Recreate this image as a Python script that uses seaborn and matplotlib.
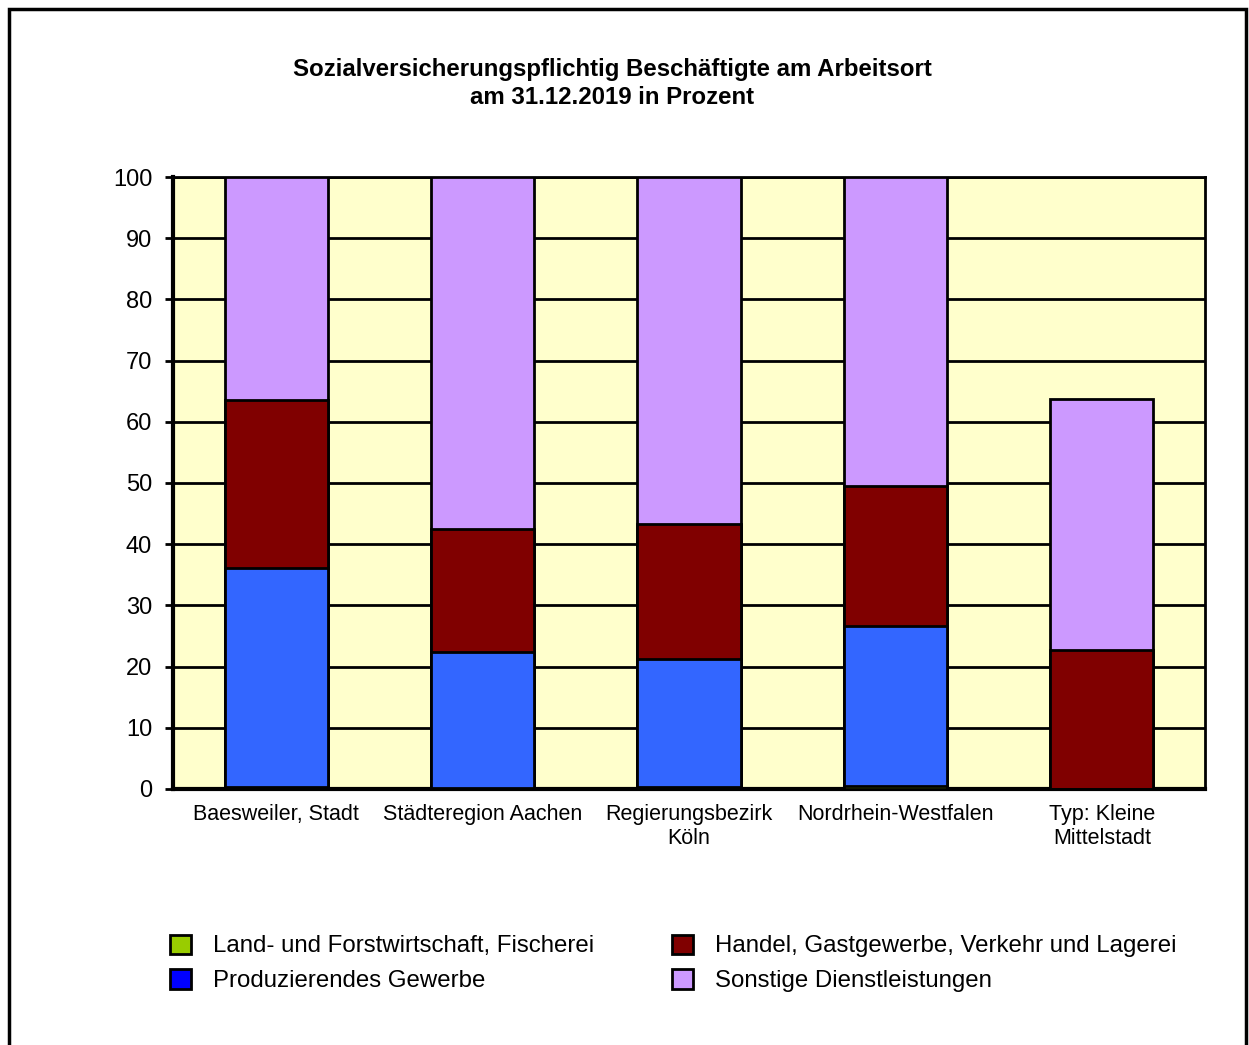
import pandas as pd
import matplotlib.pyplot as plt
import seaborn as sns
from matplotlib.patches import Patch, Rectangle

sns.set_theme(style="white")
plt.rcParams['font.family'] = ['Liberation Sans', 'DejaVu Sans']
plt.rcParams['text.color'] = 'black'
plt.rcParams['xtick.color'] = 'black'
plt.rcParams['ytick.color'] = 'black'

# Data (percent of employees by sector)
regions = ["Baesweiler, Stadt", "Städteregion Aachen", "Regierungsbezirk\nKöln",
           "Nordrhein-Westfalen", "Typ: Kleine\nMittelstadt"]
land = [0.4, 0.2, 0.4, 0.5, 0.0]
produz = [35.7, 22.2, 20.8, 26.1, 0.0]
handel = [27.5, 20.1, 22.1, 22.9, 22.7]
sonstige = [36.4, 57.5, 56.7, 50.5, 41.0]

series = ["Land- und Forstwirtschaft, Fischerei", "Produzierendes Gewerbe",
          "Handel, Gastgewerbe, Verkehr und Lagerei", "Sonstige Dienstleistungen"]
bar_colors = ["#99CC00", "#3366FF", "#800000", "#CC99FF"]
legend_colors = ["#99CC00", "#0000FF", "#800000", "#CC99FF"]

df = pd.DataFrame({"Region": regions, series[0]: land, series[1]: produz,
                   series[2]: handel, series[3]: sonstige})
cum = df[series].cumsum(axis=1)
cum["Region"] = df["Region"]

fig = plt.figure(figsize=(12.49, 10.45), dpi=100)
ax = fig.add_axes([0.1385, 0.2450, 0.8263, 0.5856])
ax.set_facecolor("#FFFFCC")

# draw stacked bars back to front using cumulative totals
for s, c in reversed(list(zip(series, bar_colors))):
    sns.barplot(data=cum, x="Region", y=s, color=c, width=0.5, ax=ax,
                edgecolor="black", linewidth=2, saturation=1, zorder=3)

ax.set_ylim(0, 100)
ax.set_xlim(-0.5, 4.5)
ax.set_yticks(range(0, 101, 10))
ax.yaxis.grid(True, color="black", linewidth=2, zorder=0)
ax.set_axisbelow(True)
ax.set_xlabel("")
ax.set_ylabel("")
ax.tick_params(axis="y", labelsize=17, length=6, width=2, left=True, color="black",
               labelcolor="black", pad=9)
ax.tick_params(axis="x", labelsize=15.5, length=0, pad=11, labelcolor="black")
for sp in ax.spines.values():
    sp.set_visible(True)
    sp.set_color("black")
    sp.set_linewidth(2)
ax.spines["left"].set_linewidth(3)
ax.spines["bottom"].set_linewidth(3)

fig.text(0.49, 0.920, "Sozialversicherungspflichtig Beschäftigte am Arbeitsort\nam 31.12.2019 in Prozent",
         ha="center", va="center", fontsize=17.3, fontweight="bold", linespacing=1.3,
         color="black")

handles = [Patch(facecolor=c, edgecolor="black", linewidth=2) for c in legend_colors]
fig.legend(handles, series, ncol=2, loc="center left", bbox_to_anchor=(0.119, 0.078),
           frameon=False, fontsize=17.3, handlelength=0.85, handleheight=0.85,
           handletextpad=0.93, columnspacing=3.25, labelspacing=0.5,
           labelcolor="black")

# outer frame
fig.patches.append(Rectangle((9 / 1249, -0.05), 1237 / 1249, 1.05 - 9 / 1045,
                             transform=fig.transFigure, fill=False,
                             edgecolor="black", linewidth=2.5))

fig.savefig("out.png", dpi=100)
